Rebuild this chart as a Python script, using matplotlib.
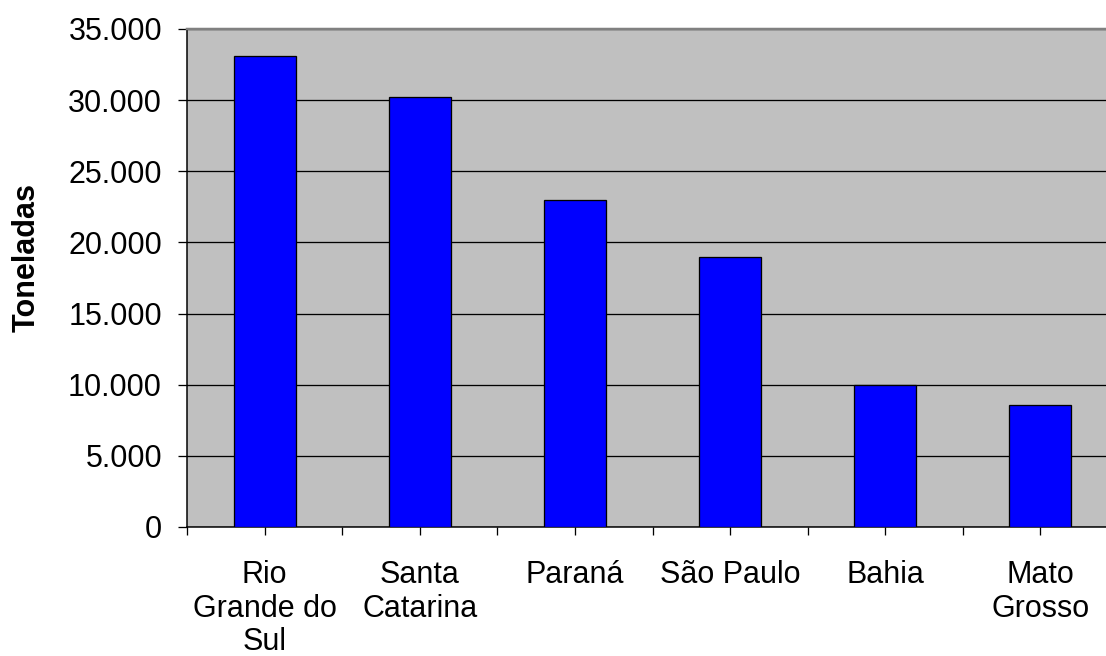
import matplotlib
matplotlib.use("Agg")
import matplotlib.pyplot as plt
from matplotlib.ticker import FuncFormatter, MultipleLocator

# Production by state (tonnes)
states = ["Rio\nGrande do\nSul", "Santa\nCatarina", "Paraná", "São Paulo", "Bahia", "Mato\nGrosso"]
tonnes = [33100, 30200, 23000, 19000, 10000, 8600]
y_ticks = [0, 5000, 10000, 15000, 20000, 25000, 30000, 35000]

plt.rcParams["font.family"] = ["Liberation Sans", "DejaVu Sans"]

PX = 0.72  # points per pixel at 100 dpi
FS = 22

W, H = 1106, 656
fig = plt.figure(figsize=(W / 100, H / 100), dpi=100)
left, right, bottom, top = 187, 1118, 527, 29
ax = fig.add_axes([left / W, 1 - bottom / H, (right - left) / W, (bottom - top) / H])
ax.set_facecolor("#C0C0C0")

x = list(range(len(states)))
ax.bar(x, tonnes, width=0.40, color="#0000FF", edgecolor="#000000", linewidth=1.3 * PX, zorder=3)

ax.set_xlim(-0.5, len(states) - 0.5)
ax.set_ylim(0, 35000)
ax.set_yticks(y_ticks)
ax.yaxis.set_major_formatter(FuncFormatter(lambda v, p: f"{int(v):,}".replace(",", ".")))
ax.yaxis.grid(True, color="#000000", linewidth=1.3 * PX, zorder=1)
ax.set_axisbelow(True)

# category labels under bar centres, tick marks every half category
ax.set_xticks(x)
ax.set_xticklabels(states, fontsize=FS, linespacing=1.16, va="top")
ax.xaxis.set_minor_locator(MultipleLocator(0.5))
ax.tick_params(axis="x", which="major", length=8 * PX, width=1.3 * PX, color="#000000", pad=25 * PX)
ax.tick_params(axis="x", which="minor", length=8 * PX, width=1.3 * PX, color="#000000")
ax.tick_params(axis="y", length=9 * PX, width=1.3 * PX, color="#000000", labelsize=FS, pad=16 * PX)

ax.set_ylabel("Toneladas", fontsize=FS, fontweight="bold")
ax.yaxis.set_label_coords(-0.156, 0.542)

for s in ["left", "bottom"]:
    ax.spines[s].set_color("#000000")
    ax.spines[s].set_linewidth(1.5 * PX)
ax.spines["top"].set_color("#808080")
ax.spines["top"].set_linewidth(2.5 * PX)
ax.spines["right"].set_visible(False)

fig.savefig("out.png", dpi=100)
